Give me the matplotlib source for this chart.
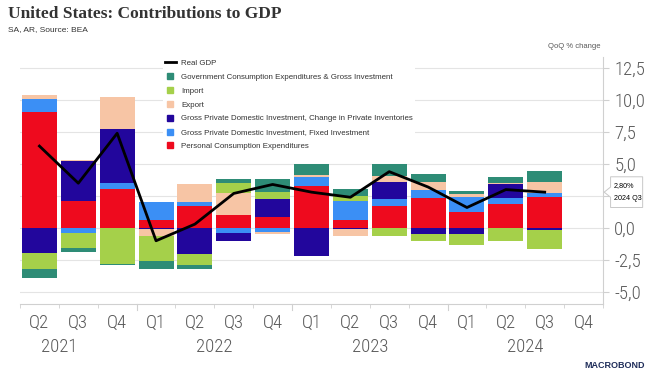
import numpy as np
from matplotlib import pyplot as plt
from matplotlib.lines import Line2D
from matplotlib.patches import Polygon

# quarters 2021 Q2 .. 2024 Q4 (last one empty)
quarters = ["Q2", "Q3", "Q4", "Q1", "Q2", "Q3", "Q4", "Q1", "Q2", "Q3", "Q4", "Q1", "Q2", "Q3", "Q4"]
years = ["2021", "2022", "2023", "2024"]
year_centers = [0.5, 4.5, 8.5, 12.5]   # middle of each calendar year on the quarter index axis

pce = [9.09, 2.10, 3.02, 0.62, 1.72, 1.00, 0.84, 3.28, 0.63, 1.74, 2.32, 1.27, 1.88, 2.45]
fixed_inv = [0.96, -0.36, 0.52, 1.44, 0.34, -0.36, -0.34, 0.72, 1.50, 0.50, 0.65, 1.18, 0.44, 0.26]
inventories = [-1.98, 3.11, 4.17, -0.10, -2.00, -0.68, 1.40, -2.16, -0.08, 1.33, -0.49, -0.49, 1.09, -0.13]
exports = [0.34, 0.08, 2.55, -0.55, 1.38, 1.71, -0.11, 0.14, -0.55, 0.52, 0.65, 0.21, 0.08, 0.91]
imports = [-1.22, -1.24, -2.81, -1.90, -0.89, 0.83, 0.60, 0.00, 0.39, -0.60, -0.53, -0.81, -0.99, -1.51]
gov = [-0.68, -0.25, -0.05, -0.62, -0.31, 0.26, 0.96, 0.86, 0.53, 0.89, 0.60, 0.26, 0.52, 0.86]
real_gdp = [6.4, 3.5, 7.4, -1.0, 0.3, 2.7, 3.4, 2.8, 2.4, 4.4, 3.2, 1.6, 3.0, 2.8]

series = [
    ("Personal Consumption Expenditures", pce, "#ee0a1e"),
    ("Gross Private Domestic Investment, Fixed Investment", fixed_inv, "#3b8ff5"),
    ("Gross Private Domestic Investment, Change in Private Inventories", inventories, "#22069c"),
    ("Export", exports, "#f7c5a5"),
    ("Import", imports, "#a5d04a"),
    ("Government Consumption Expenditures & Gross Investment", gov, "#2e8c76"),
]

plt.rcParams['font.family'] = ['Liberation Sans', 'DejaVu Sans']
W, H = 652, 381
fig = plt.figure(figsize=(W / 100, H / 100), dpi=100)
# axes box in pixels: left 20, right 603, top 57, bottom 304
ax = fig.add_axes([20 / W, 1 - 304 / H, 583 / W, 247 / H])

n = len(pce)
x = np.arange(n)
pos_bottom = np.zeros(n)
neg_bottom = np.zeros(n)
for name, vals, col in series:
    v = np.array(vals)
    bottom = np.where(v >= 0, pos_bottom, neg_bottom)
    ax.bar(x, v, width=0.9, bottom=bottom, color=col, linewidth=0, zorder=3)
    pos_bottom = pos_bottom + np.clip(v, 0, None)
    neg_bottom = neg_bottom + np.clip(v, None, 0)

ax.plot(x, real_gdp, color="black", lw=2, zorder=4)

ax.set_xlim(-0.5, 14.5)
ax.set_ylim(-5.94, 13.36)
yt = np.arange(-5, 12.6, 2.5)
ax.set_yticks(yt)
# the 2,5 label sits under the last-value callout, so it is left blank
ax.set_yticklabels(["" if v == 2.5 else ("%.1f" % v).replace(".", ",") for v in yt])
ax.yaxis.tick_right()
ax.grid(axis="y", color="#e4e4e4", lw=0.8, zorder=0)
for s in ["top", "left"]:
    ax.spines[s].set_visible(False)
for s in ["right", "bottom"]:
    ax.spines[s].set_color("#d0d0d0")
    ax.spines[s].set_linewidth(0.8)

tick_font = ['Roboto Condensed', 'Liberation Sans Narrow', 'Liberation Sans']
ax.tick_params(axis="y", length=4, color="#d0d0d0", pad=4, labelsize=13.5, labelcolor="#595959")
ax.set_xticks(np.arange(15))
ax.set_xticklabels(quarters)
ax.tick_params(axis="x", length=0, pad=7, labelsize=13.5, labelcolor="#595959")
ax.set_xticks(np.arange(-0.5, 15, 1), minor=True)
ax.tick_params(axis="x", which="minor", length=3, color="#d0d0d0")
for lab in ax.get_xticklabels() + ax.get_yticklabels():
    lab.set_family(tick_font)
    lab.set_fontweight("light")

# longer tick at year boundaries
tr = ax.get_xaxis_transform()
for b in [2.5, 6.5, 10.5]:
    ax.plot([b, b], [0, -0.025], color="#d0d0d0", lw=0.8, transform=tr, clip_on=False)

for yr, c in zip(years, year_centers):
    ax.text(c, -0.175, yr, transform=tr, ha="center", va="center", fontsize=13.5,
            color="#595959", family=tick_font, fontweight="light")

# legend
handles = [Line2D([], [], color="black", lw=2)]
labels = ["Real GDP"]
for name, vals, col in reversed(series):
    handles.append(Line2D([], [], marker="s", color=col, ls="none", markersize=4.5))
    labels.append(name)
leg = ax.legend(handles, labels, loc="upper left", bbox_to_anchor=(0.245, 1.0),
                fontsize=5.7, frameon=True, facecolor="white", edgecolor="none",
                framealpha=1, handlelength=1.3, handletextpad=0.7, labelspacing=0.8,
                borderpad=0.3, borderaxespad=0)
leg.set_zorder(5)
for t in leg.get_texts():
    t.set_color("#333333")

# last value callout
g = real_gdp[-1]
ytr = ax.get_yaxis_transform()
box = Polygon([(1.002, g), (1.013, g + 0.4), (1.013, g + 1.2), (1.068, g + 1.2),
               (1.068, g - 1.2), (1.013, g - 1.2), (1.013, g - 0.4)],
              closed=True, facecolor="white", edgecolor="#c8c8c8", lw=0.7,
              transform=ytr, clip_on=False, zorder=6)
ax.add_patch(box)
ax.text(1.019, g + 0.5, ("%.2f%%" % g).replace(".", ","), transform=ytr, fontsize=5.2,
        va="center", ha="left", zorder=7)
ax.text(1.019, g - 0.5, "2024 Q3", transform=ytr, fontsize=5.2, va="center", ha="left", zorder=7)

fig.text(8 / W, 1 - 14 / H, "United States: Contributions to GDP", fontsize=12.5,
         fontweight="bold", family="Liberation Serif", color="#333333", va="center")
fig.text(8 / W, 1 - 30 / H, "SA, AR, Source: BEA", fontsize=6, color="#333333", va="center")
fig.text(601 / W, 1 - 47 / H, "QoQ % change", fontsize=5.5, color="#595959", va="center", ha="right")
fig.text(615 / W, 1 - 365 / H, "MACROBOND", fontsize=6.5, color="#1f2d5a", va="center",
         ha="center", fontweight="bold")

fig.savefig("out.png", dpi=100)
